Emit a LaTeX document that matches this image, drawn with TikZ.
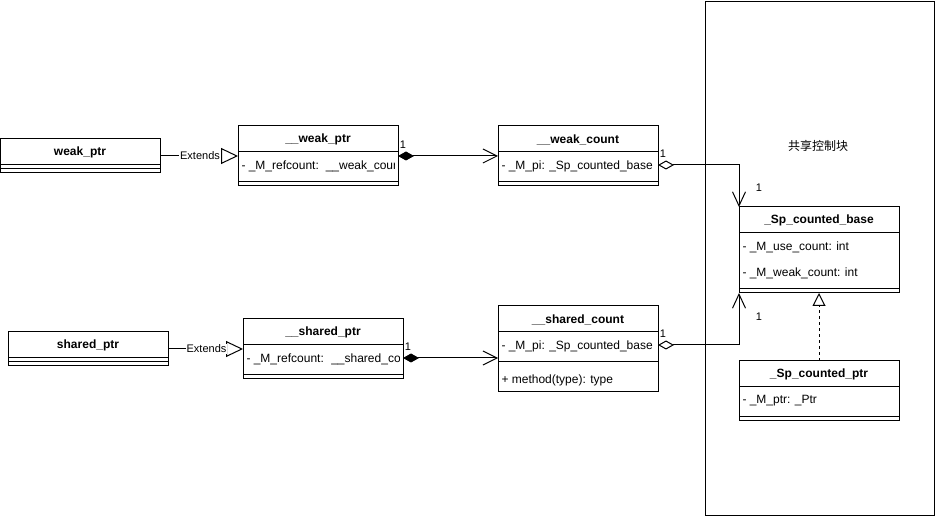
\documentclass[tikz,border=0pt]{standalone}
\usepackage{fontspec}
\setmainfont{Liberation Sans}
\newfontfamily\cjk{Noto Sans CJK SC}
\usetikzlibrary{arrows.meta}
\begin{document}
\begin{tikzpicture}[x=1pt,y=-1pt,line width=1pt,
  box/.style={draw,minimum width=160pt,anchor=north west,inner sep=0pt,outer sep=0pt},
  row/.style={minimum width=160pt,minimum height=26pt,anchor=north west,inner sep=0pt,outer sep=0pt},
  hdr/.style={font=\bfseries\fontsize{12}{14}\selectfont,inner sep=0pt},
  attr/.style={font=\fontsize{12}{14}\selectfont,anchor=west,inner sep=0pt},
  lbl/.style={font=\fontsize{11}{13}\selectfont,inner sep=0pt},
  mult/.style={font=\fontsize{11}{13}\selectfont,inner sep=0pt},
  ext/.style={-{Triangle[open,length=17pt,width=16pt]}},
  comp/.style={{Diamond[length=16pt,width=9pt]}-{Straight Barb[length=14pt,width=14pt]}},
  aggr/.style={{Diamond[open,length=16pt,width=9pt]}-{Straight Barb[length=14pt,width=13pt]}},
  real/.style={-{Triangle[open,length=13pt,width=13pt]},dash pattern=on 3pt off 3pt}]
\useasboundingbox (0,0) rectangle (935,518);

% frame
\node[draw,anchor=north west,minimum width=229pt,minimum height=514.5pt,inner sep=0pt] (frame) at (704.5,1) {};
\node[font=\cjk\fontsize{12}{14}\selectfont,inner sep=0pt] (framelbl) at (818,145.5) {共享控制块};

% weak_ptr
\node[box,minimum height=34pt] (wp) at (0,139) {};
\node[hdr] (wpT) at (80,152.5) {weak\_ptr};
\draw (0,165) -- (160,165);
\draw (0,169) -- (160,169);

% __weak_ptr
\node[box,minimum height=60pt] (wptr) at (238,126) {};
\node[hdr] (wptrT) at (318,139.5) {\_\_weak\_ptr};
\node[row] (wptrA) at (238,152) {};
\begin{scope}
  \clip (238,152) rectangle (394.5,178);
  \node[attr] (wptrAt) at (241,166.5) {- \_M\_refcount:\hspace{2.5pt} \_\_weak\_count};
\end{scope}
\draw (238,152) -- (398,152);
\draw (238,182) -- (398,182);

% __weak_count
\node[box,minimum height=60pt] (wc) at (498,126) {};
\node[hdr] (wcT) at (578,139.5) {\_\_weak\_count};
\node[row] (wcA) at (498,152) {};
\node[attr] (wcAt) at (501,166.5) {- \_M\_pi: \_Sp\_counted\_base};
\draw (498,152) -- (658,152);
\draw (498,182) -- (658,182);

% shared_ptr
\node[box,minimum height=34pt] (sp) at (8,332) {};
\node[hdr] (spT) at (88,345.5) {shared\_ptr};
\draw (8,358) -- (168,358);
\draw (8,362) -- (168,362);

% __shared_ptr
\node[box,minimum height=60pt] (sptr) at (243,319) {};
\node[hdr] (sptrT) at (323,332.5) {\_\_shared\_ptr};
\node[row] (sptrA) at (243,345) {};
\begin{scope}
  \clip (243,345) rectangle (399.5,371);
  \node[attr] (sptrAt) at (246,359.5) {- \_M\_refcount:\hspace{3pt} \_\_shared\_count};
\end{scope}
\draw (243,345) -- (403,345);
\draw (243,375) -- (403,375);

% __shared_count
\node[box,minimum height=86pt] (sc) at (498,306) {};
\node[hdr] (scT) at (578,319.5) {\_\_shared\_count};
\node[row] (scA) at (498,332) {};
\node[attr] (scAt) at (501,346) {- \_M\_pi: \_Sp\_counted\_base};
\node[attr] (scM) at (501,380.5) {+ method(type): type};
\draw (498,332) -- (658,332);
\draw (498,362) -- (658,362);

% _Sp_counted_base
\node[box,minimum height=86pt] (scb) at (739,207) {};
\node[hdr] (scbT) at (819,220.5) {\_Sp\_counted\_base};
\node[attr] (scbA1) at (742,247) {- \_M\_use\_count: int};
\node[attr] (scbA2) at (742,273) {- \_M\_weak\_count: int};
\draw (739,233) -- (899,233);
\draw (739,289) -- (899,289);

% _Sp_counted_ptr
\node[box,minimum height=60pt] (scp) at (739,361) {};
\node[hdr] (scpT) at (819,374.5) {\_Sp\_counted\_ptr};
\node[attr] (scpA) at (742,401) {- \_M\_ptr: \_Ptr};
\draw (739,387) -- (899,387);
\draw (739,417) -- (899,417);

% connectors
\draw[ext] (wp.east) -- node[lbl,fill=white,inner sep=1pt,xshift=1pt] {Extends} (wptr.west);
\draw[ext] (sp.east) -- node[lbl,fill=white,inner sep=1pt,xshift=1pt] {Extends} (sptr.west |- sp.east);
\draw[comp] (wptr.east) -- (wc.west);
\draw[comp] (sptrA.east) -- (sc.west |- sptrA.east);
\draw[aggr] (wcA.east) -| (scb.north west);
\draw[aggr] (scA.east) -| (scb.south west);
\draw[real] (scp.north) -- (scb.south);

% multiplicities
\node[mult] (m1) at (403,144.5) {1};
\node[mult] (m2) at (663,153.5) {1};
\node[mult] (m3) at (759,187.5) {1};
\node[mult] (m4) at (408,346.5) {1};
\node[mult] (m5) at (663,333.5) {1};
\node[mult] (m6) at (759,316.5) {1};
\end{tikzpicture}
\end{document}
